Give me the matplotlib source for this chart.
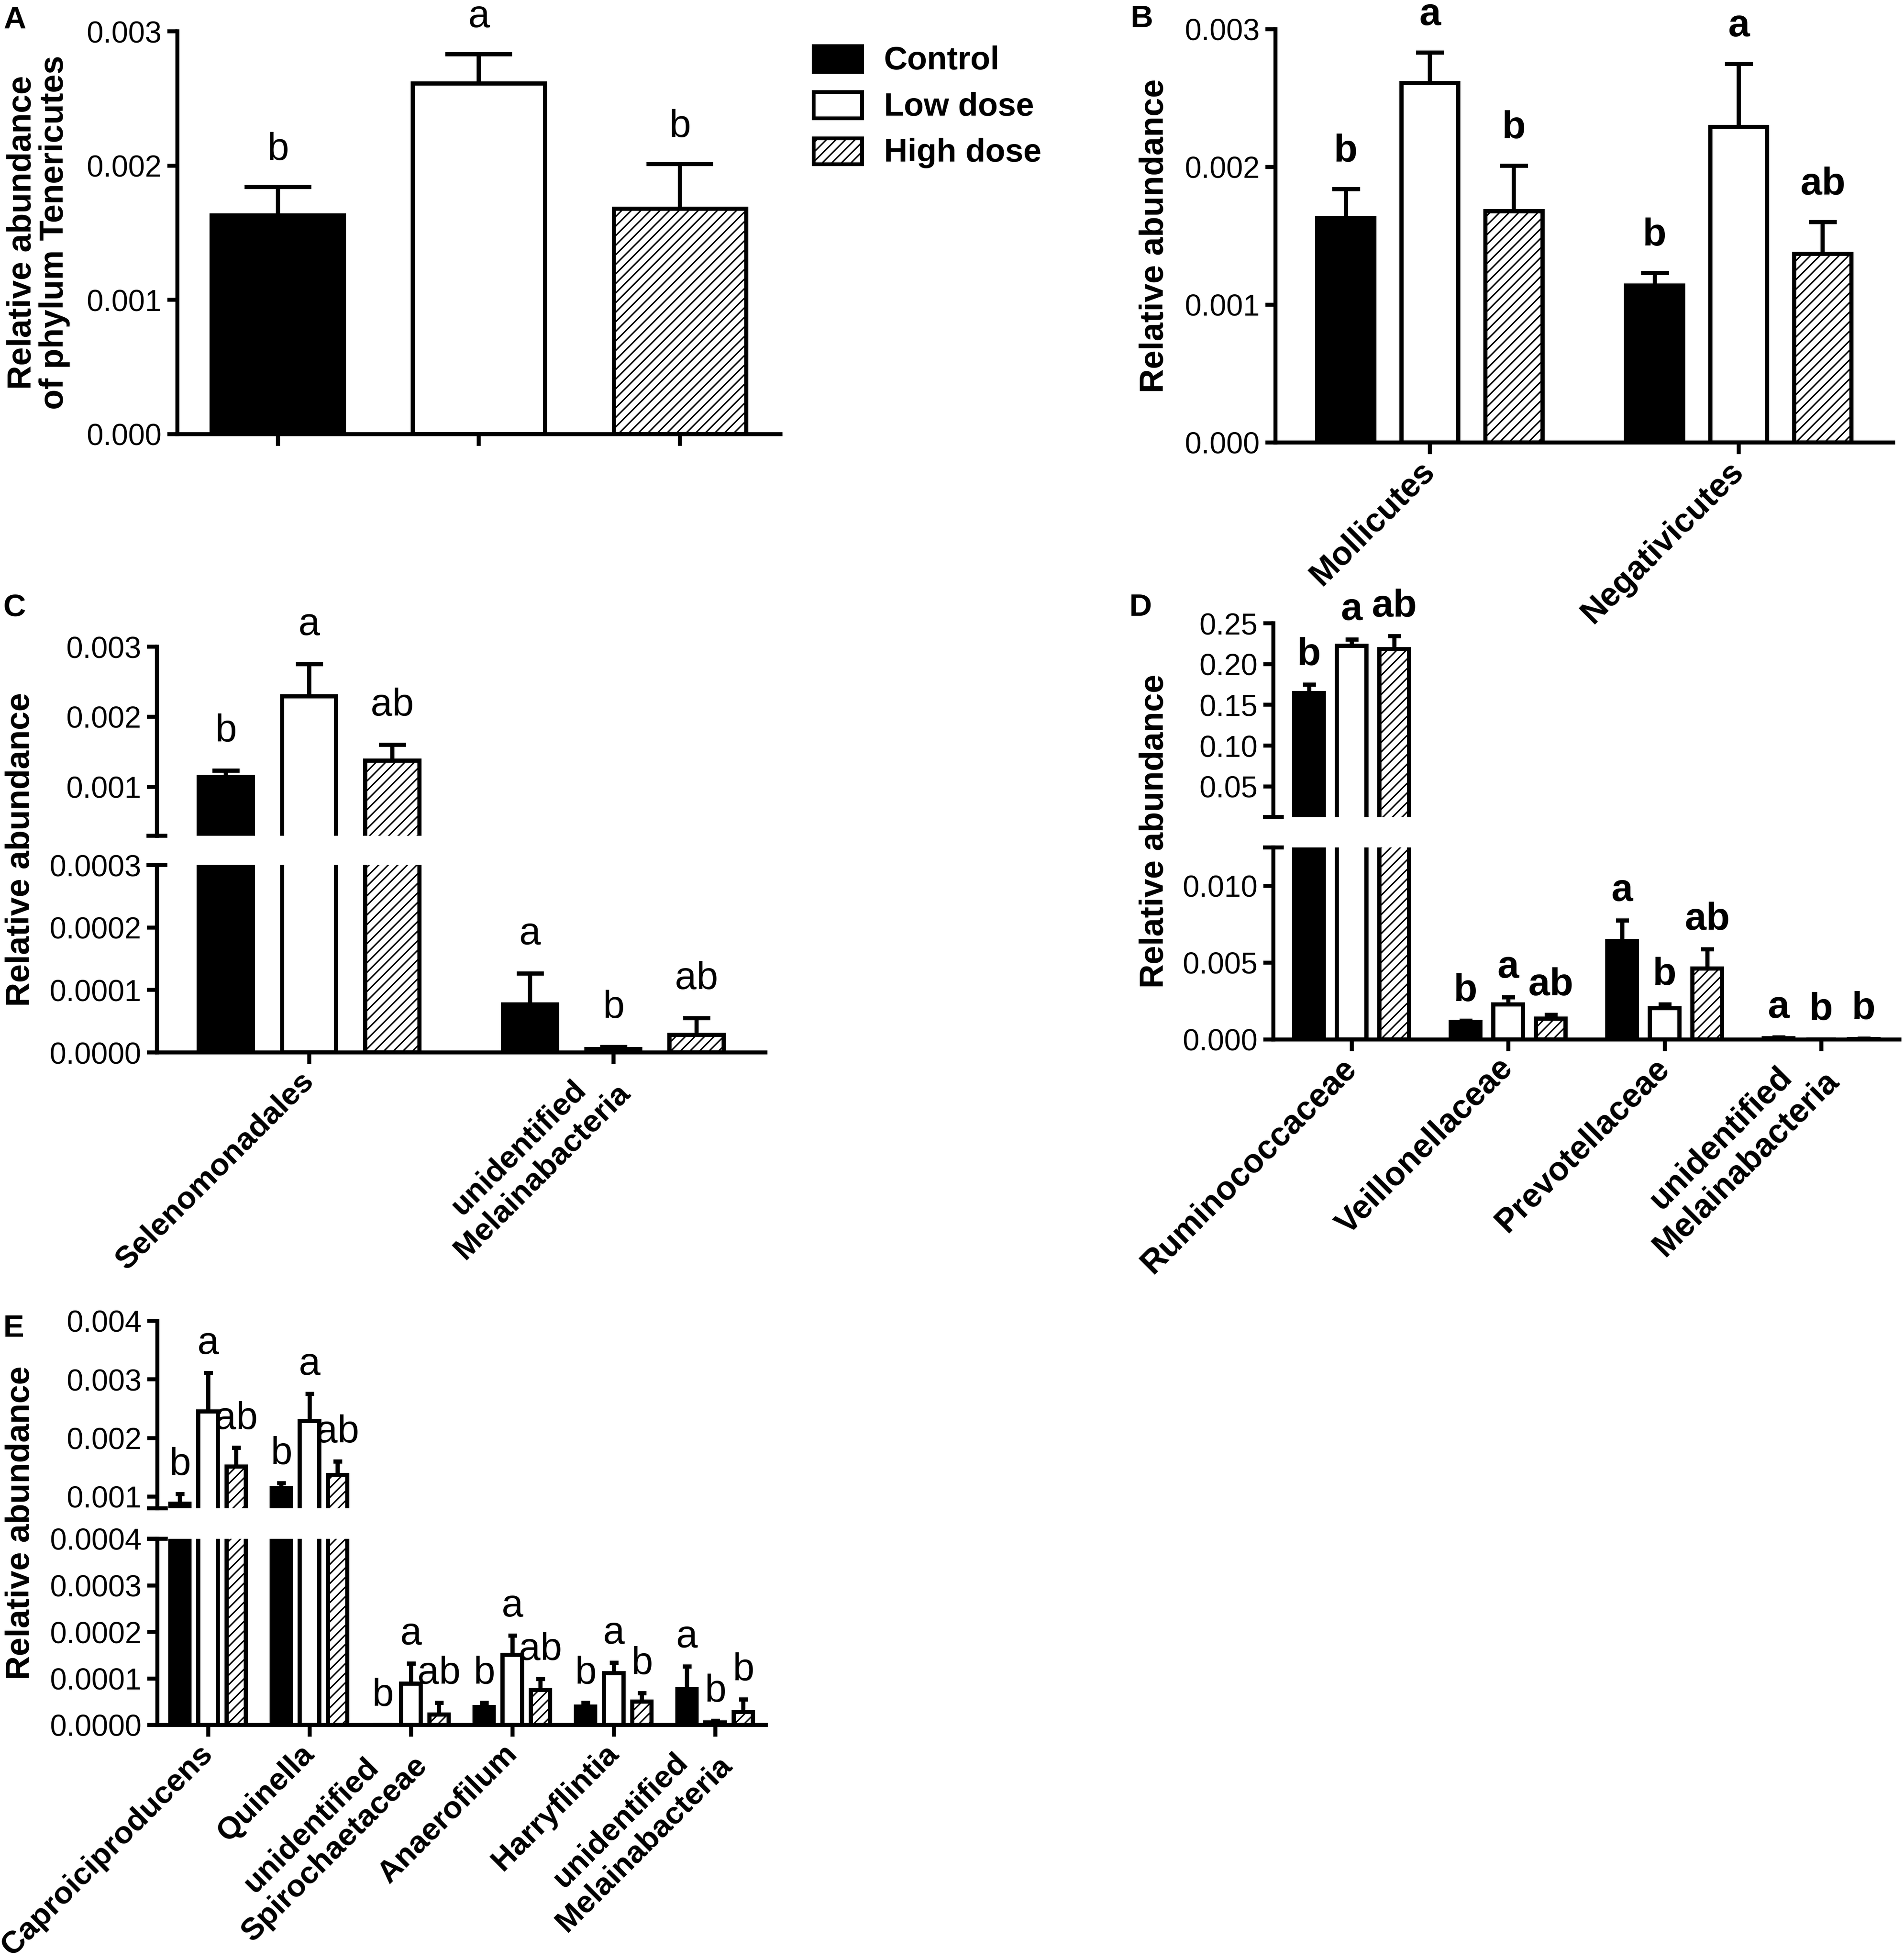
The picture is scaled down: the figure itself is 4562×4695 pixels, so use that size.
import numpy as np
import matplotlib
matplotlib.use("Agg")
import matplotlib.pyplot as plt
from matplotlib.patches import Rectangle

# ---------------- data ----------------
groups = ["Control", "Low dose", "High dose"]

# A: phylum Tenericutes
phylum_mean = [0.00163, 0.00261, 0.00168]
phylum_sem = [0.00021, 0.00022, 0.00033]
phylum_letters = ["b", "a", "b"]

# B: class level
class_names = ["Mollicutes", "Negativicutes"]
class_ctrl = [0.00163, 0.00114]
class_low = [0.00261, 0.00229]
class_high = [0.00168, 0.00137]
class_ctrl_sem = [0.00021, 0.00009]
class_low_sem = [0.00022, 0.00046]
class_high_sem = [0.00033, 0.00023]
class_ctrl_let = ["b", "b"]
class_low_let = ["a", "a"]
class_high_let = ["b", "ab"]

# C: order level
order_names = ["Selenomonadales", "unidentified\nMelainabacteria"]
order_ctrl = [0.00114, 0.0000771]
order_low = [0.00229, 0.0000056]
order_high = [0.00137, 0.0000280]
order_ctrl_sem = [0.00009, 0.0000489]
order_low_sem = [0.00046, 0.0000034]
order_high_sem = [0.00023, 0.0000267]
order_ctrl_let = ["b", "a"]
order_low_let = ["a", "b"]
order_high_let = ["ab", "ab"]

# D: family level
family_names = ["Ruminococcaceae", "Veillonellaceae", "Prevotellaceae",
                "unidentified\nMelainabacteria"]
family_ctrl = [0.1645, 0.00114, 0.00640, 0.0000771]
family_low = [0.2225, 0.00229, 0.00205, 0.0000056]
family_high = [0.2184, 0.00137, 0.00463, 0.0000280]
family_ctrl_sem = [0.0105, 0.00009, 0.00134, 0.0000489]
family_low_sem = [0.0075, 0.00046, 0.00022, 0.0000034]
family_high_sem = [0.0158, 0.00023, 0.00125, 0.0000267]
family_ctrl_let = ["b", "b", "a", "a"]
family_low_let = ["a", "a", "b", "b"]
family_high_let = ["ab", "ab", "ab", "b"]

# E: genus level
genus_names = ["Caproiciproducens", "Quinella", "unidentified\nSpirochaetaceae",
               "Anaerofilum", "Harryflintia", "unidentified\nMelainabacteria"]
genus_ctrl = [0.00088, 0.00114, 0.0, 0.0000384, 0.0000393, 0.0000771]
genus_low = [0.00245, 0.00229, 0.0000886, 0.0001507, 0.0001114, 0.0000056]
genus_high = [0.00151, 0.00137, 0.0000228, 0.0000749, 0.0000502, 0.0000280]
genus_ctrl_sem = [0.00016, 0.00009, 0.0, 0.0000091, 0.0000082, 0.0000489]
genus_low_sem = [0.00066, 0.00046, 0.0000434, 0.0000413, 0.0000226, 0.0000034]
genus_high_sem = [0.00032, 0.00023, 0.0000247, 0.0000237, 0.0000183, 0.0000267]
genus_ctrl_let = ["b", "b", "b", "b", "b", "a"]
genus_low_let = ["a", "a", "a", "a", "a", "b"]
genus_high_let = ["ab", "ab", "ab", "ab", "b", "b"]

# ---------------- style ----------------
DPI = 275
W, H = 4562, 4695


def pt(px):
    return px * 72.0 / DPI


plt.rcParams["font.family"] = ["Liberation Sans", "DejaVu Sans"]
plt.rcParams["hatch.linewidth"] = pt(3.5)
plt.rcParams["hatch.color"] = "black"

LW_AX = pt(9.5)
LW_BAR = pt(10)
LW_ERR = pt(10)
TICK_FS = pt(72)
XLAB_FS = pt(79)
XLAB_FS_SMALL = pt(75)
LET_FS = pt(93)
AXL_FS = pt(80)
LEG_FS = pt(78)
PANEL_FS = pt(75)

FILLS = [("black", None), ("white", None), ("white", "////")]

fig = plt.figure(figsize=(W / DPI, H / DPI), dpi=DPI)


def add_ax(left, right, top, bottom):
    return fig.add_axes([left / W, 1 - bottom / H, (right - left) / W, (bottom - top) / H])


def style_ax(ax, show_x=True):
    ax.set_facecolor("none")
    ax.spines["top"].set_visible(False)
    ax.spines["right"].set_visible(False)
    ax.spines["left"].set_linewidth(LW_AX)
    ax.spines["bottom"].set_linewidth(LW_AX)
    ax.tick_params(axis="y", direction="out", length=pt(24), width=LW_AX,
                   pad=pt(14), labelsize=TICK_FS)
    if show_x:
        ax.tick_params(axis="x", direction="out", length=pt(28), width=LW_AX,
                       pad=pt(30))
    else:
        ax.spines["bottom"].set_visible(False)
        ax.tick_params(axis="x", bottom=False, labelbottom=False)


def set_yticks(ax, ticks, fmt):
    ax.set_yticks(ticks)
    ax.set_yticklabels([fmt % t for t in ticks])


def break_mark(ax, y):
    ax.plot([0], [y], marker="_", ms=pt(50), mew=LW_AX, color="black",
            transform=ax.transAxes, clip_on=False, zorder=6)


def draw_panel(axes, split, means, sems, letters, width, pitch, cap_px,
               off_px, letter_weight):
    n = len(means[0])
    centers = np.arange(n)
    for gi in range(3):
        x = centers + (gi - 1) * pitch
        m = np.array(means[gi])
        s = np.array(sems[gi])
        fc, hatch = FILLS[gi]
        for ax in axes:
            ax.bar(x, m, width, facecolor=fc, edgecolor="black", linewidth=LW_BAR,
                   hatch=hatch, zorder=2)
            ax.errorbar(x, m, yerr=[np.zeros_like(s), s], fmt="none", ecolor="black",
                        elinewidth=LW_ERR, capsize=pt(cap_px / 2), capthick=LW_ERR,
                        zorder=3)
        for xi, top, let in zip(x, m + s, letters[gi]):
            ax = axes[-1]
            if len(axes) > 1 and top > split:
                ax = axes[0]
            ax.annotate(let, xy=(xi, top), xytext=(0, pt(off_px)),
                        textcoords="offset points", ha="center", va="baseline",
                        fontsize=LET_FS, fontweight=letter_weight,
                        annotation_clip=False, zorder=7)


def set_xlabels(ax, names, fs):
    ax.set_xticks(np.arange(len(names)))
    ax.set_xticklabels(names, rotation=45, ha="right", va="center",
                       rotation_mode="anchor", multialignment="center",
                       fontsize=fs, fontweight="bold")


# ---------------- Panel A ----------------
axA = add_ax(425, 1870, 75, 1040)
style_ax(axA)
xA = np.arange(3)
for gi in range(3):
    fc, hatch = FILLS[gi]
    axA.bar(xA[gi], phylum_mean[gi], 0.658, facecolor=fc, edgecolor="black",
            linewidth=LW_BAR, hatch=hatch, zorder=2)
    axA.errorbar(xA[gi], phylum_mean[gi], yerr=[[0], [phylum_sem[gi]]], fmt="none",
                 ecolor="black", elinewidth=LW_ERR, capsize=pt(80), capthick=LW_ERR,
                 zorder=3)
    axA.annotate(phylum_letters[gi], xy=(xA[gi], phylum_mean[gi] + phylum_sem[gi]),
                 xytext=(0, pt(65)), textcoords="offset points", ha="center",
                 va="baseline", fontsize=LET_FS, annotation_clip=False, zorder=7)
axA.set_xlim(-0.5, 2.5)
axA.set_ylim(0, 0.003)
set_yticks(axA, [0, 0.001, 0.002, 0.003], "%.3f")
axA.set_xticks(xA)
axA.set_xticklabels([])

# legend
for i, (lab, (fc, hatch)) in enumerate(zip(groups, FILLS)):
    yc = 141 + i * 110.5
    fig.add_artist(Rectangle((1949 / W, 1 - (yc + 31) / H), 116 / W, 62 / H,
                             transform=fig.transFigure, facecolor=fc,
                             edgecolor="black", linewidth=pt(9), hatch=hatch))
    fig.text(2118 / W, 1 - (yc + 25) / H, lab, ha="left", va="baseline",
             fontsize=LEG_FS, fontweight="bold")

# ---------------- Panel B ----------------
axB = add_ax(3056, 4536, 70, 1060)
style_ax(axB)
draw_panel([axB], None, [class_ctrl, class_low, class_high],
           [class_ctrl_sem, class_low_sem, class_high_sem],
           [class_ctrl_let, class_low_let, class_high_let],
           0.185, 0.272, 67, 66, "bold")
axB.set_xlim(-0.5, 1.5)
axB.set_ylim(0, 0.003)
set_yticks(axB, [0, 0.001, 0.002, 0.003], "%.3f")
set_xlabels(axB, class_names, XLAB_FS)

# ---------------- Panel C ----------------
axC1 = add_ax(376, 1834, 1549, 2002)
axC2 = add_ax(376, 1834, 2072, 2521)
style_ax(axC1, show_x=False)
style_ax(axC2)
draw_panel([axC1, axC2], 0.0003, [order_ctrl, order_low, order_high],
           [order_ctrl_sem, order_low_sem, order_high_sem],
           [order_ctrl_let, order_low_let, order_high_let],
           0.178, 0.274, 65, 70, "normal")
for ax in (axC1, axC2):
    ax.set_xlim(-0.5, 1.5)
axC1.set_ylim(0.0003, 0.003)
axC2.set_ylim(0, 0.0003)
set_yticks(axC1, [0.001, 0.002, 0.003], "%.3f")
set_yticks(axC2, [0, 0.0001, 0.0002, 0.0003], "%.4f")
set_xlabels(axC2, order_names, XLAB_FS_SMALL)
break_mark(axC1, 0)
break_mark(axC2, 1)

# ---------------- Panel D ----------------
axD1 = add_ax(3051, 4551, 1493, 1957)
axD2 = add_ax(3051, 4551, 2030, 2490)
style_ax(axD1, show_x=False)
style_ax(axD2)
draw_panel([axD1, axD2], 0.0125, [family_ctrl, family_low, family_high],
           [family_ctrl_sem, family_low_sem, family_high_sem],
           [family_ctrl_let, family_low_let, family_high_let],
           0.187, 0.272, 31, 47, "bold")
for ax in (axD1, axD2):
    ax.set_xlim(-0.5, 3.5)
axD1.set_ylim(0.0125, 0.25)
axD2.set_ylim(0, 0.0125)
set_yticks(axD1, [0.05, 0.10, 0.15, 0.20, 0.25], "%.2f")
set_yticks(axD2, [0, 0.005, 0.010], "%.3f")
set_xlabels(axD2, family_names, XLAB_FS)
break_mark(axD1, 0)
break_mark(axD2, 1)

# ---------------- Panel E ----------------
axE1 = add_ax(377, 1835, 3164, 3613)
axE2 = add_ax(377, 1835, 3686, 4132)
style_ax(axE1, show_x=False)
style_ax(axE2)
draw_panel([axE1, axE2], 0.0004, [genus_ctrl, genus_low, genus_high],
           [genus_ctrl_sem, genus_low_sem, genus_high_sem],
           [genus_ctrl_let, genus_low_let, genus_high_let],
           0.19, 0.277, 21, 46, "normal")
for ax in (axE1, axE2):
    ax.set_xlim(-0.5, 5.5)
axE1.set_ylim(0.0008, 0.004)
axE2.set_ylim(0, 0.0004)
set_yticks(axE1, [0.001, 0.002, 0.003, 0.004], "%.3f")
set_yticks(axE2, [0, 0.0001, 0.0002, 0.0003, 0.0004], "%.4f")
set_xlabels(axE2, genus_names, XLAB_FS_SMALL)
break_mark(axE1, 0)
break_mark(axE2, 1)

# ---------------- axis titles & panel letters ----------------
fig.text(92 / W, 1 - 557 / H, "Relative abundance\nof phylum Tenericutes", rotation=90,
         ha="center", va="center", multialignment="center", linespacing=1.03,
         fontsize=AXL_FS, fontweight="bold")
for (x, y) in [(2766, 565), (50, 2035), (2766, 1991), (50, 3648)]:
    fig.text(x / W, 1 - y / H, "Relative abundance", rotation=90, ha="center",
             va="center", fontsize=AXL_FS, fontweight="bold")
for lab, (x, y) in zip("ABCDE", [(8, 14), (2709, 11), (8, 1421), (2706, 1421), (8, 3148)]):
    fig.text(x / W, 1 - y / H, lab, ha="left", va="top", fontsize=PANEL_FS,
             fontweight="bold")

fig.savefig("out.png", dpi=DPI, facecolor="white")
